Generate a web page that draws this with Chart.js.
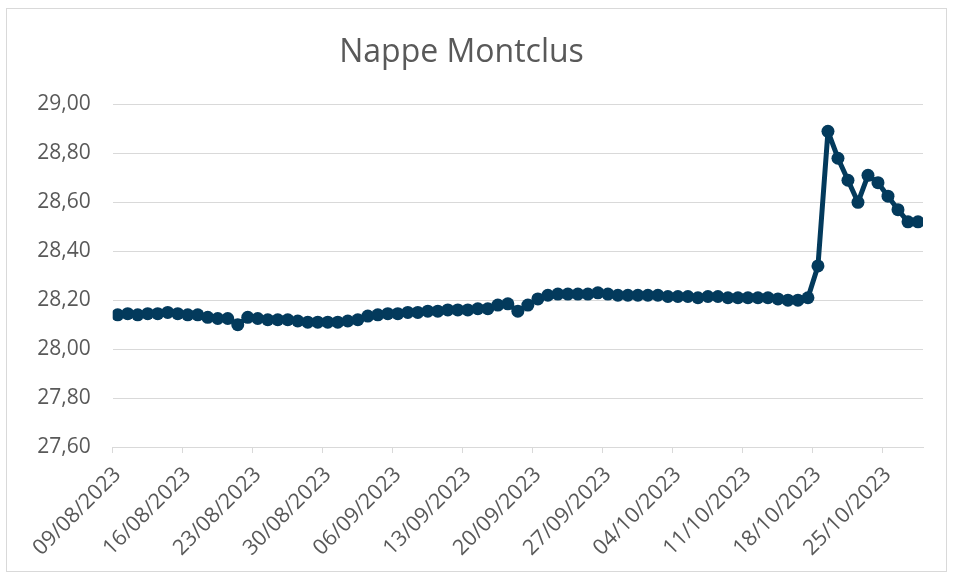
<!DOCTYPE html>
<html>
<head>
<meta charset="utf-8">
<script src="https://cdn.jsdelivr.net/npm/chart.js@4"></script>
<style>
  html, body { margin: 0; padding: 0; background: #ffffff; }
  #wrap { position: relative; width: 957px; height: 577px; }
</style>
</head>
<body>
<div id="wrap"><canvas id="c" width="957" height="577"></canvas></div>
<script>
// ---- data ----
const chartTitle = 'Nappe Montclus';
const dates = [
  '09/08/2023','10/08/2023','11/08/2023','12/08/2023','13/08/2023','14/08/2023','15/08/2023',
  '16/08/2023','17/08/2023','18/08/2023','19/08/2023','20/08/2023','21/08/2023','22/08/2023',
  '23/08/2023','24/08/2023','25/08/2023','26/08/2023','27/08/2023','28/08/2023','29/08/2023',
  '30/08/2023','31/08/2023','01/09/2023','02/09/2023','03/09/2023','04/09/2023','05/09/2023',
  '06/09/2023','07/09/2023','08/09/2023','09/09/2023','10/09/2023','11/09/2023','12/09/2023',
  '13/09/2023','14/09/2023','15/09/2023','16/09/2023','17/09/2023','18/09/2023','19/09/2023',
  '20/09/2023','21/09/2023','22/09/2023','23/09/2023','24/09/2023','25/09/2023','26/09/2023',
  '27/09/2023','28/09/2023','29/09/2023','30/09/2023','01/10/2023','02/10/2023','03/10/2023',
  '04/10/2023','05/10/2023','06/10/2023','07/10/2023','08/10/2023','09/10/2023','10/10/2023',
  '11/10/2023','12/10/2023','13/10/2023','14/10/2023','15/10/2023','16/10/2023','17/10/2023',
  '18/10/2023','19/10/2023','20/10/2023','21/10/2023','22/10/2023','23/10/2023','24/10/2023',
  '25/10/2023','26/10/2023','27/10/2023','28/10/2023'
];
const levels = [
  28.14, 28.145, 28.14, 28.145, 28.145, 28.15, 28.145,
  28.14, 28.14, 28.13, 28.125, 28.125, 28.10, 28.13,
  28.125, 28.12, 28.12, 28.12, 28.115, 28.11, 28.11,
  28.11, 28.11, 28.115, 28.12, 28.135, 28.14, 28.145,
  28.145, 28.15, 28.15, 28.155, 28.155, 28.16, 28.16,
  28.16, 28.165, 28.165, 28.18, 28.185, 28.155, 28.18,
  28.205, 28.22, 28.225, 28.225, 28.225, 28.225, 28.23,
  28.225, 28.22, 28.22, 28.22, 28.22, 28.22, 28.215,
  28.215, 28.215, 28.21, 28.215, 28.215, 28.21, 28.21,
  28.21, 28.21, 28.21, 28.205, 28.20, 28.20, 28.21,
  28.34, 28.89, 28.78, 28.69, 28.60, 28.71, 28.68,
  28.625, 28.57, 28.52, 28.52
];
const tickDates = ['09/08/2023','16/08/2023','23/08/2023','30/08/2023','06/09/2023','13/09/2023',
  '20/09/2023','27/09/2023','04/10/2023','11/10/2023','18/10/2023','25/10/2023'];
const yMin = 27.6, yMax = 29.0, yStep = 0.2;

// ---- styles ----
const lineColor = '#033a5c';
const textColor = '#595959';
const gridColor = '#d9d9d9';
const fontFamily = '"Open Sans", "Liberation Sans", sans-serif';

const points = levels.map((v, i) => ({ x: i + 0.5, y: v }));

const borderPlugin = {
  id: 'chartBorder',
  beforeDraw(chart) {
    const ctx = chart.ctx;
    ctx.save();
    ctx.fillStyle = '#ffffff';
    ctx.fillRect(0, 0, chart.width, chart.height);
    ctx.strokeStyle = gridColor;
    ctx.lineWidth = 1;
    ctx.strokeRect(6.5, 8.5, 940, 563);
    ctx.restore();
  }
};

new Chart(document.getElementById('c'), {
  type: 'line',
  data: {
    datasets: [{
      label: chartTitle,
      data: points,
      borderColor: lineColor,
      backgroundColor: lineColor,
      borderWidth: 5,
      borderJoinStyle: 'round',
      borderCapStyle: 'round',
      pointRadius: 6.5,
      pointBorderWidth: 0,
      pointBackgroundColor: lineColor,
      tension: 0
    }]
  },
  options: {
    responsive: false,
    animation: false,
    events: [],
    layout: { padding: { top: 10, right: 34, bottom: 0, left: 0 } },
    plugins: {
      legend: { display: false },
      tooltip: { enabled: false },
      title: {
        display: true,
        text: chartTitle,
        color: textColor,
        font: { family: fontFamily, size: 32, weight: 'normal', lineHeight: 1.2 },
        padding: { top: 24, bottom: 32 }
      }
    },
    scales: {
      x: {
        type: 'linear',
        min: 0,
        max: dates.length,
        afterBuildTicks(scale) {
          scale.ticks = tickDates.map(d => ({ value: dates.indexOf(d) }));
        },
        afterFit(scale) { scale.height = 130; },
        grid: { drawOnChartArea: false, drawTicks: true, tickLength: 6, color: gridColor },
        border: { display: true, color: gridColor, width: 1 },
        ticks: {
          autoSkip: false,
          minRotation: 45,
          maxRotation: 45,
          padding: 9,
          labelOffset: 5,
          color: textColor,
          font: { family: fontFamily, size: 21.5 },
          callback: (v) => dates[v] !== undefined ? dates[v] : ''
        }
      },
      y: {
        min: yMin,
        max: yMax,
        afterFit(scale) { scale.width = 112.7; },
        grid: { color: gridColor, lineWidth: 1, drawTicks: false },
        border: { display: false },
        ticks: {
          stepSize: yStep,
          padding: 22,
          color: textColor,
          font: { family: fontFamily, size: 21 },
          callback: (v) => Number(v).toFixed(2).replace('.', ',')
        }
      }
    }
  },
  plugins: [borderPlugin]
});
</script>
</body>
</html>
